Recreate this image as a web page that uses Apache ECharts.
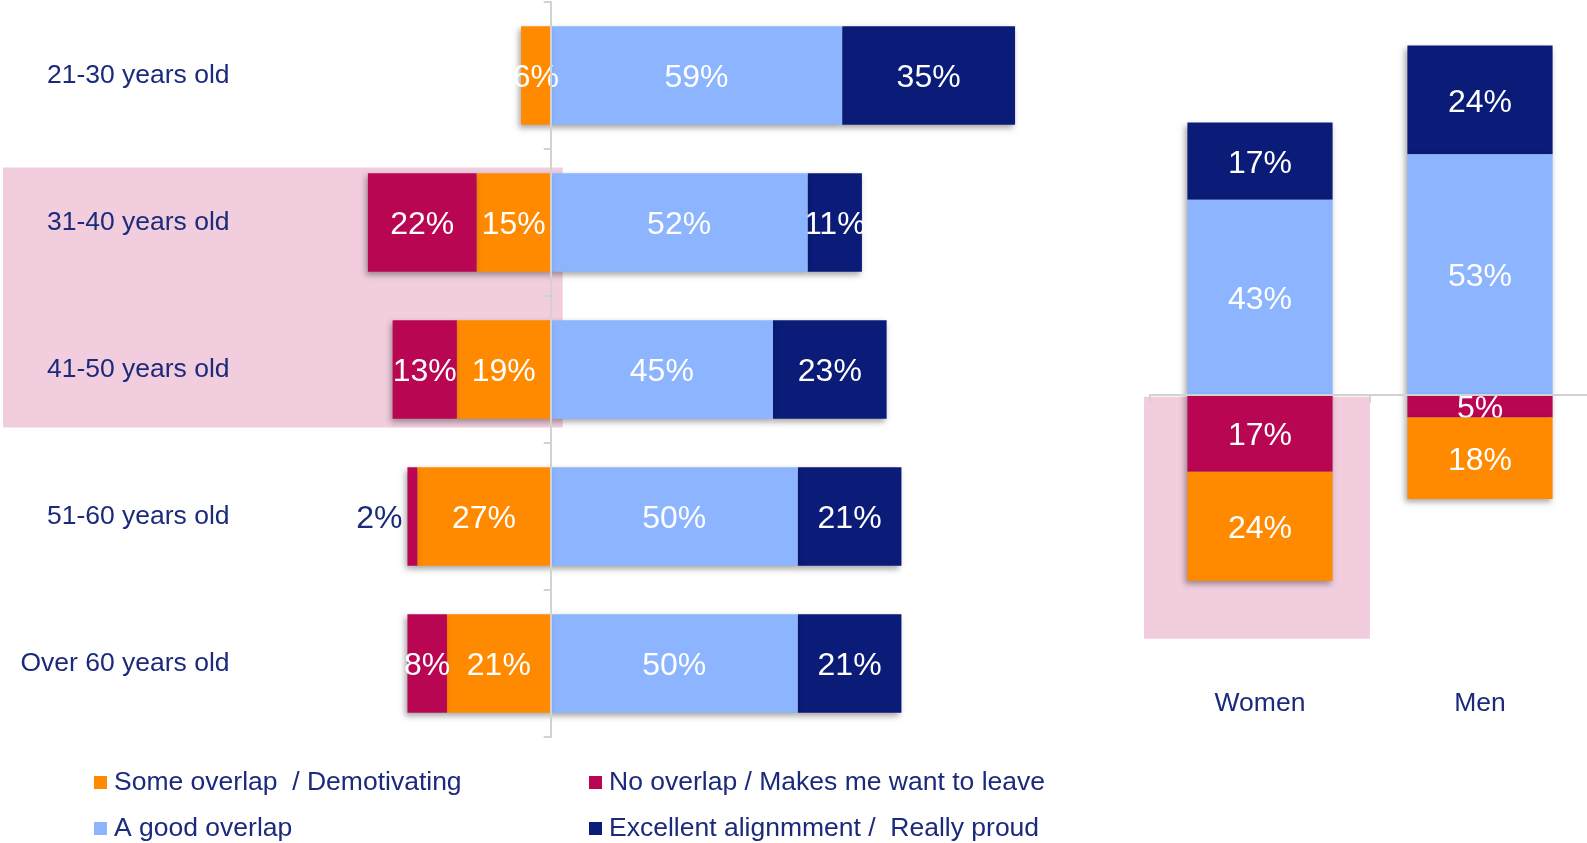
<!DOCTYPE html>
<html>
<head>
<meta charset="utf-8">
<script src="https://cdn.jsdelivr.net/npm/echarts@6/dist/echarts.min.js"></script>
<style>
  html, body { margin: 0; padding: 0; background: #ffffff; }
  #chart { width: 1587px; height: 843px; }
</style>
</head>
<body>
<div id="chart"></div>
<script>
// ---- data: share of answers per age group (%) ----
const ageGroups = ['21-30 years old', '31-40 years old', '41-50 years old', '51-60 years old', 'Over 60 years old'];
const ageNoOverlap   = [0, 22, 13, 2, 8];
const ageSomeOverlap = [6, 15, 19, 27, 21];
const ageGoodOverlap = [59, 52, 45, 50, 50];
const ageExcellent   = [35, 11, 23, 21, 21];

// ---- data: share of answers per gender (%) ----
const genders = ['Women', 'Men'];
const genderNoOverlap   = [17, 5];
const genderSomeOverlap = [24, 18];
const genderGoodOverlap = [43, 53];
const genderExcellent   = [17, 24];

// answer labels (legend text)
const nameSome = 'Some overlap  / Demotivating';
const nameNo = 'No overlap / Makes me want to leave';
const nameGood = 'A good overlap';
const nameExcellent = 'Excellent alignmment /  Really proud';

const COLORS = {
  some: '#FF8A00',
  no: '#B80652',
  good: '#8CB4FF',
  excellent: '#0A1B78',
  text: '#1B2A7A',
  axis: '#D2D2D2',
  highlight: '#F1CDDD'
};
const FONT = "'Liberation Sans', Arial, Helvetica, sans-serif";

// Negative answers are drawn to the left / below the zero line.
function segment(name, values, sign, color, z, gridIdx) {
  const horizontal = gridIdx === 0;
  return {
    name: name,
    type: 'bar',
    stack: horizontal ? 'age' : 'gender',
    stackStrategy: 'samesign',
    xAxisIndex: horizontal ? 0 : 1,
    yAxisIndex: horizontal ? 0 : 2,
    z: z,
    barCategoryGap: horizontal ? '33%' : '34%',
    itemStyle: {
      color: color,
      shadowBlur: 6,
      shadowColor: 'rgba(0,0,0,0.35)',
      shadowOffsetX: -2,
      shadowOffsetY: 3
    },
    label: {
      show: true,
      position: 'inside',
      offset: [0, 3],
      color: '#ffffff',
      fontSize: 32,
      fontFamily: FONT,
      formatter: p => (p.value ? Math.abs(p.value) + '%' : '')
    },
    data: values.map(v => {
      if (!v) return null; // empty segment
      const item = { value: sign * v };
      // a sliver too thin for its text gets the label beside it
      if (v < 3) {
        item.label = { position: horizontal ? 'left' : 'bottom', distance: 5, color: COLORS.text };
      }
      return item;
    })
  };
}

const chart = echarts.init(document.getElementById('chart'), null, { renderer: 'canvas' });

const legendText = { fontSize: 26.5, lineHeight: 27, color: COLORS.text, fontFamily: FONT, padding: [0, 0, 0, 2] };

const option = {
  backgroundColor: '#ffffff',
  animation: false,
  textStyle: { fontFamily: FONT },
  grid: [
    { left: 229.6, top: 2, width: 815.1, height: 735, outerBoundsMode: 'none', containLabel: false },
    { left: 1150, top: 31.9, width: 440, height: 634.9, outerBoundsMode: 'none', containLabel: false }
  ],
  xAxis: [
    { gridIndex: 0, type: 'value', min: -65, max: 100, show: false },
    {
      gridIndex: 1, type: 'category', data: genders, z: 10,
      axisLine: { onZero: true, lineStyle: { color: COLORS.axis, width: 2 } },
      axisTick: { show: true, length: 8, lineStyle: { color: COLORS.axis, width: 2 } },
      axisLabel: { show: false }
    },
    {
      gridIndex: 1, type: 'category', data: genders, position: 'bottom',
      axisLine: { show: false, onZero: false },
      axisTick: { show: false },
      axisLabel: { margin: 23, fontSize: 26.5, color: COLORS.text, fontFamily: FONT }
    }
  ],
  yAxis: [
    {
      gridIndex: 0, type: 'category', data: ageGroups, inverse: true, z: 10,
      axisLine: { onZero: true, lineStyle: { color: COLORS.axis, width: 2 } },
      axisTick: { show: true, length: 7, lineStyle: { color: COLORS.axis, width: 2 } },
      axisLabel: { show: false }
    },
    {
      gridIndex: 0, type: 'category', data: ageGroups, inverse: true, position: 'left',
      axisLine: { show: false, onZero: false },
      axisTick: { show: false },
      axisLabel: { margin: 0, fontSize: 26.5, color: COLORS.text, fontFamily: FONT, padding: [4, 0, 0, 0] }
    },
    { gridIndex: 1, type: 'value', min: -60, max: 80, show: false }
  ],
  legend: [
    {
      data: [nameSome, nameGood], orient: 'vertical', left: 94, top: 769, padding: 0,
      icon: 'rect', itemWidth: 13, itemHeight: 13, itemGap: 19, selectedMode: false,
      textStyle: legendText
    },
    {
      data: [nameNo, nameExcellent], orient: 'vertical', left: 589, top: 769, padding: 0,
      icon: 'rect', itemWidth: 13, itemHeight: 13, itemGap: 19, selectedMode: false,
      textStyle: legendText
    }
  ],
  color: [COLORS.good, COLORS.excellent, COLORS.some, COLORS.no],
  series: [
    // age groups: positives stack rightwards, negatives leftwards from zero
    segment(nameGood, ageGoodOverlap, 1, COLORS.good, 2, 0),
    segment(nameExcellent, ageExcellent, 1, COLORS.excellent, 1, 0),
    segment(nameSome, ageSomeOverlap, -1, COLORS.some, 3, 0),
    segment(nameNo, ageNoOverlap, -1, COLORS.no, 4, 0),
    // gender: positives stack upwards, negatives downwards from zero
    segment(nameGood, genderGoodOverlap, 1, COLORS.good, 2, 1),
    segment(nameExcellent, genderExcellent, 1, COLORS.excellent, 1, 1),
    segment(nameNo, genderNoOverlap, -1, COLORS.no, 3, 1),
    segment(nameSome, genderSomeOverlap, -1, COLORS.some, 4, 1)
  ]
};

chart.setOption(option);

// highlight panels behind the 31-50 age rows and behind the women's negative answers
const rowA = chart.convertToPixel({ gridIndex: 0 }, [0, ageGroups[1]]);
const rowB = chart.convertToPixel({ gridIndex: 0 }, [0, ageGroups[2]]);
const women = chart.convertToPixel({ gridIndex: 1 }, [genders[0], 0]);
const womenLow = chart.convertToPixel({ gridIndex: 1 }, [genders[0], -(genderNoOverlap[0] + genderSomeOverlap[0])]);

chart.setOption({
  graphic: [
    {
      type: 'rect', z: -1, silent: true,
      shape: { x: 3, y: rowA[1] - 55, width: rowA[0] + 12 - 3, height: (rowB[1] + 58) - (rowA[1] - 55) },
      style: { fill: COLORS.highlight }
    },
    {
      type: 'rect', z: -1, silent: true,
      shape: { x: women[0] - 116, y: women[1] + 2, width: 226, height: womenLow[1] + 58 - (women[1] + 2) },
      style: { fill: COLORS.highlight }
    }
  ]
});
</script>
</body>
</html>
